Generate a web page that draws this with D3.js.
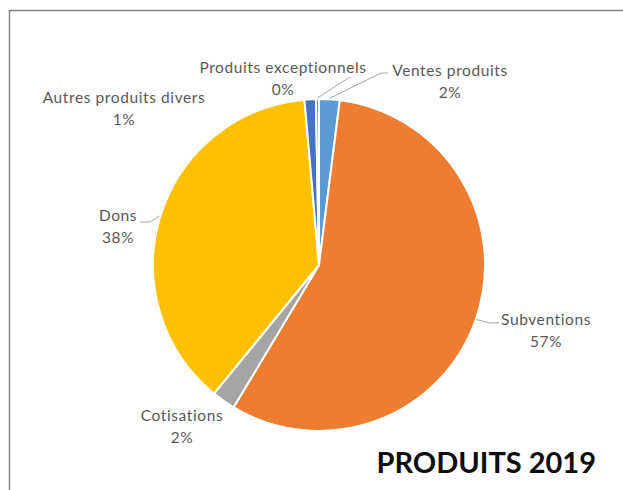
<!DOCTYPE html>
<html>
<head>
<meta charset="utf-8">
<script src="https://cdn.jsdelivr.net/npm/d3@7/dist/d3.min.js"></script>
<style>
  html, body { margin: 0; padding: 0; background: #fff; }
  svg { display: block; }
</style>
</head>
<body>
<svg id="chart" width="623" height="490"></svg>
<script>
// ---- data ----
const categories = ["Ventes produits", "Subventions", "Cotisations", "Dons", "Autres produits divers", "Produits exceptionnels"];
const values = [2.0, 56.6, 2.3, 37.7, 1.1, 0.3];
const percentLabels = ["2%", "57%", "2%", "38%", "1%", "0%"];
const colors = ["#5B9BD5", "#ED7D31", "#A5A5A5", "#FFC000", "#4472C4", "#70AD47"];
const title = "PRODUITS 2019";

// ---- layout (label placement, not data) ----
const labelLayout = [
  { x: 450, y: 76, anchor: [388, 73], elbow: [381, 73] },
  { x: 546, y: 325, anchor: [499, 323], elbow: [490, 323] },
  { x: 182, y: 421, anchor: null, elbow: null },
  { x: 118, y: 221, anchor: [140, 222], elbow: [150, 222] },
  { x: 124, y: 103, anchor: null, elbow: null },
  { x: 283, y: 73, anchor: [350, 77], elbow: [350, 77] }
];

const W = 623, H = 490;
const cx = 319, cy = 265, R = 166;
const svg = d3.select("#chart");

// frame
svg.append("path")
  .attr("d", `M9.5,${H} L9.5,10.5 L${W},10.5`)
  .attr("fill", "none").attr("stroke", "#7f7f7f").attr("stroke-width", 1.5);

const g = svg.append("g").attr("transform", `translate(${cx},${cy})`);

const pie = d3.pie().sort(null).value(d => d)(values);
const arc = d3.arc().innerRadius(0).outerRadius(R);

g.selectAll("path.slice").data(pie).enter().append("path")
  .attr("class", "slice")
  .attr("d", arc)
  .attr("fill", (d, i) => colors[i])
  .attr("stroke", "#fff")
  .attr("stroke-width", 2)
  .attr("stroke-linejoin", "round");

// leader lines
pie.forEach((d, i) => {
  const L = labelLayout[i];
  if (!L.anchor) return;
  const a = (d.startAngle + d.endAngle) / 2;
  const px = cx + (R + 1) * Math.sin(a), py = cy - (R + 1) * Math.cos(a);
  svg.append("polyline")
    .attr("points", `${L.anchor[0]},${L.anchor[1]} ${L.elbow[0]},${L.elbow[1]} ${px},${py}`)
    .attr("fill", "none").attr("stroke", "#a6a6a6").attr("stroke-width", 1);
});

// labels
const font = "Lato, 'Open Sans', sans-serif";
pie.forEach((d, i) => {
  const L = labelLayout[i];
  const t = svg.append("text")
    .attr("text-anchor", "middle")
    .attr("font-family", font)
    .attr("font-size", 15.5)
    .attr("letter-spacing", 0.6)
    .attr("fill", "#595959");
  t.append("tspan").attr("x", L.x).attr("y", L.y).text(categories[i]);
  t.append("tspan").attr("x", L.x).attr("y", L.y + 22).text(percentLabels[i]);
});

// title
svg.append("text")
  .attr("x", 596).attr("y", 473)
  .attr("text-anchor", "end")
  .attr("font-family", "Lato, sans-serif")
  .attr("font-weight", "bold")
  .attr("font-size", 29)
  .attr("letter-spacing", 0)
  .attr("fill", "#0d0d0d")
  .text(title);
</script>
</body>
</html>
